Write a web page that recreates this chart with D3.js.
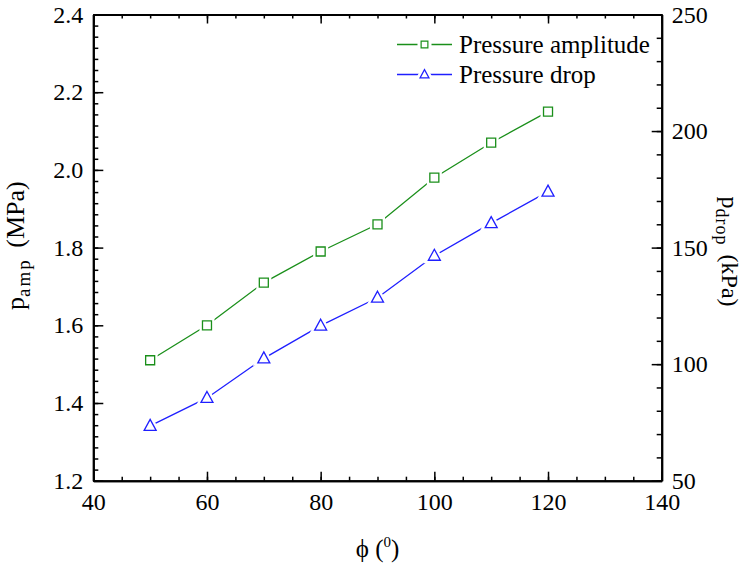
<!DOCTYPE html>
<html>
<head>
<meta charset="utf-8">
<script src="https://cdn.jsdelivr.net/npm/d3@7"></script>
<style>
  body { margin: 0; background: #fff; }
  svg text { font-family: "Liberation Serif", "Times New Roman", serif !important; fill: #000; }
</style>
</head>
<body>
<svg id="chart" width="745" height="564"></svg>
<script>
const phi = [50, 60, 70, 80, 90, 100, 110, 120];
const pAmp = [1.51, 1.60, 1.71, 1.79, 1.86, 1.98, 2.07, 2.15];     // MPa, left axis
const pDrop = [73.5, 85.5, 102.5, 116.5, 128.5, 146.5, 160.5, 174]; // kPa, right axis

const xTicks = [40, 60, 80, 100, 120, 140];
const yLeftTicks = [1.2, 1.4, 1.6, 1.8, 2.0, 2.2, 2.4];
const yRightTicks = [50, 100, 150, 200, 250];
const seriesNames = ['Pressure amplitude', 'Pressure drop'];

const width = 745;
const height = 564;
const margin = { top: 14.5, right: 83.3, bottom: 83.3, left: 93.3 };
const serif = '"Liberation Serif", "Times New Roman", serif';

const green = '#1a8f1a';
const blue = '#1f1fff';

const svg = d3.select('#chart');

const x = d3.scaleLinear().domain([40, 140]).range([margin.left, width - margin.right]);
const yL = d3.scaleLinear().domain([1.2, 2.4]).range([height - margin.bottom, margin.top]);
const yR = d3.scaleLinear().domain([50, 250]).range([height - margin.bottom, margin.top]);

// minor ticks: x every 5, left y 7 steps per major, right y every 10
const xMinor = d3.range(40, 140.01, 5);
const yLMinor = d3.range(0, 42).map(i => 1.2 + i * 0.2 / 7).concat([2.4]);
const yRMinor = d3.range(50, 250.01, 10);

function styleAxis(g) {
    g.attr('font-family', serif);
    g.select('.domain').attr('stroke-width', 2);
    g.selectAll('.tick line').attr('stroke-width', 1.5);
    g.selectAll('text').attr('font-size', 24).style('font-family', serif);
}

const bottom = height - margin.bottom;
const right = width - margin.right;

// minor ticks first
svg.append('g').attr('transform', `translate(0,${bottom})`)
    .call(d3.axisBottom(x).tickValues(xMinor).tickSizeInner(-4).tickSizeOuter(0).tickFormat(''))
    .call(styleAxis);
svg.append('g').attr('transform', `translate(0,${margin.top})`)
    .call(d3.axisTop(x).tickValues(xMinor).tickSizeInner(-4).tickSizeOuter(0).tickFormat(''))
    .call(styleAxis);
svg.append('g').attr('transform', `translate(${margin.left},0)`)
    .call(d3.axisLeft(yL).tickValues(yLMinor).tickSizeInner(-5).tickSizeOuter(0).tickFormat(''))
    .call(styleAxis);
svg.append('g').attr('transform', `translate(${right},0)`)
    .call(d3.axisRight(yR).tickValues(yRMinor).tickSizeInner(-5).tickSizeOuter(0).tickFormat(''))
    .call(styleAxis);

// major ticks
svg.append('g').attr('transform', `translate(0,${bottom})`)
    .call(d3.axisBottom(x).tickValues(xTicks).tickSizeInner(-9).tickSizeOuter(0).tickPadding(12).tickFormat(d3.format('d')))
    .call(styleAxis);
svg.append('g').attr('transform', `translate(0,${margin.top})`)
    .call(d3.axisTop(x).tickValues(xTicks).tickSizeInner(-9).tickSizeOuter(0).tickFormat(''))
    .call(styleAxis);
svg.append('g').attr('transform', `translate(${margin.left},0)`)
    .call(d3.axisLeft(yL).tickValues(yLeftTicks).tickSizeInner(-10).tickSizeOuter(0).tickPadding(10).tickFormat(d3.format('.1f')))
    .call(styleAxis);
svg.append('g').attr('transform', `translate(${right},0)`)
    .call(d3.axisRight(yR).tickValues(yRightTicks).tickSizeInner(-10).tickSizeOuter(0).tickPadding(10).tickFormat(d3.format('d')))
    .call(styleAxis);

// axis titles
const tl = svg.append('text')
    .attr('transform', `translate(23.5,${(margin.top + bottom) / 2 - 2}) rotate(-90)`)
    .attr('text-anchor', 'middle')
    .attr('font-size', 26);
tl.append('tspan').text('p');
tl.append('tspan').attr('font-size', 19).attr('dy', 6).attr('letter-spacing', 2).text('amp');
tl.append('tspan').attr('dy', -6).attr('dx', 4).text(' (MPa)');

const tr = svg.append('text')
    .attr('transform', `translate(722,${(margin.top + bottom) / 2 + 4}) rotate(90)`)
    .attr('text-anchor', 'middle')
    .attr('font-size', 24);
tr.append('tspan').text('p');
tr.append('tspan').attr('font-size', 18).attr('dy', 6).attr('letter-spacing', 1).text('drop');
tr.append('tspan').attr('dy', -6).attr('dx', 3).text(' (kPa)');

const tx = svg.append('text')
    .attr('x', (margin.left + right) / 2)
    .attr('y', 557)
    .attr('text-anchor', 'middle')
    .attr('font-size', 25);
tx.append('tspan').text('ϕ (');
tx.append('tspan').attr('font-size', 15).attr('dy', -10).text('0');
tx.append('tspan').attr('dy', 10).text(')');

// markers
const squarePath = d3.symbol().type(d3.symbolSquare).size(81);
const trianglePath = 'M0,-6.5L6,4.5L-6,4.5Z';

const series = [
    { name: seriesNames[0], color: green, values: pAmp, y: yL, shape: () => squarePath() },
    { name: seriesNames[1], color: blue, values: pDrop, y: yR, shape: () => trianglePath }
];

const line = d3.line();

series.forEach(s => {
    const pts = phi.map((p, i) => [x(p), s.y(s.values[i])]);
    svg.append('path')
        .attr('d', line(pts))
        .attr('fill', 'none')
        .attr('stroke', s.color)
        .attr('stroke-width', 1.3);
    const g = svg.append('g');
    g.selectAll('path.halo')
        .data(pts)
        .enter()
        .append('path')
        .attr('class', 'halo')
        .attr('d', s.shape())
        .attr('transform', d => `translate(${d[0]},${d[1]})`)
        .attr('fill', '#fff')
        .attr('stroke', '#fff')
        .attr('stroke-width', 6);
    g.selectAll('path.mark')
        .data(pts)
        .enter()
        .append('path')
        .attr('class', 'mark')
        .attr('d', s.shape())
        .attr('transform', d => `translate(${d[0]},${d[1]})`)
        .attr('fill', 'none')
        .attr('stroke', s.color)
        .attr('stroke-width', 1.3);
});

// legend
const legend = svg.append('g')
    .selectAll('g')
    .data(series)
    .enter()
    .append('g')
    .attr('transform', (d, i) => `translate(397,${44.5 + i * 30})`);

legend.append('line')
    .attr('x1', 0).attr('x2', 55)
    .attr('stroke', d => d.color)
    .attr('stroke-width', 1.3);
legend.append('path')
    .attr('d', d => d.shape())
    .attr('transform', 'translate(27.5,0)')
    .attr('fill', '#fff')
    .attr('stroke', '#fff')
    .attr('stroke-width', 5);
legend.append('path')
    .attr('d', d => d.shape())
    .attr('transform', 'translate(27.5,0) scale(0.75)')
    .attr('fill', '#fff')
    .attr('stroke', d => d.color)
    .attr('stroke-width', 1.6);
legend.append('text')
    .attr('x', 62)
    .attr('y', 8)
    .attr('font-size', 25)
    .text(d => d.name);
</script>
</body>
</html>
